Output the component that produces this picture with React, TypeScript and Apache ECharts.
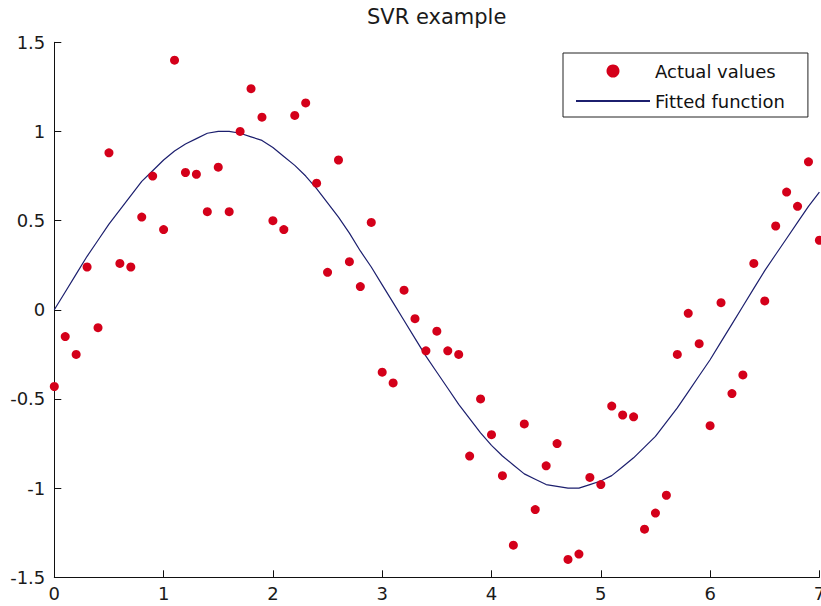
import React, { useEffect, useRef } from "react";
import * as echarts from "echarts";

const xValues = [
  0, 0.1, 0.2, 0.3, 0.4, 0.5, 0.6, 0.7, 0.8, 0.9,
  1.0, 1.1, 1.2, 1.3, 1.4, 1.5, 1.6, 1.7, 1.8, 1.9,
  2.0, 2.1, 2.2, 2.3, 2.4, 2.5, 2.6, 2.7, 2.8, 2.9,
  3.0, 3.1, 3.2, 3.3, 3.4, 3.5, 3.6, 3.7, 3.8, 3.9,
  4.0, 4.1, 4.2, 4.3, 4.4, 4.5, 4.6, 4.7, 4.8, 4.9,
  5.0, 5.1, 5.2, 5.3, 5.4, 5.5, 5.6, 5.7, 5.8, 5.9,
  6.0, 6.1, 6.2, 6.3, 6.4, 6.5, 6.6, 6.7, 6.8, 6.9,
  7.0,
];

const actualValues = [
  -0.43, -0.15, -0.25, 0.24, -0.1, 0.88, 0.26, 0.24, 0.52, 0.75,
  0.45, 1.4, 0.77, 0.76, 0.55, 0.8, 0.55, 1.0, 1.24, 1.08,
  0.5, 0.45, 1.09, 1.16, 0.71, 0.21, 0.84, 0.27, 0.13, 0.49,
  -0.35, -0.41, 0.11, -0.05, -0.23, -0.12, -0.23, -0.25, -0.82, -0.5,
  -0.7, -0.93, -1.32, -0.64, -1.12, -0.875, -0.75, -1.4, -1.37, -0.94,
  -0.98, -0.54, -0.59, -0.6, -1.23, -1.14, -1.04, -0.25, -0.02, -0.19,
  -0.65, 0.04, -0.47, -0.365, 0.26, 0.05, 0.47, 0.66, 0.58, 0.83,
  0.39,
];

const fittedValues = [
  0.0, 0.1, 0.2, 0.3, 0.39, 0.48, 0.56, 0.64, 0.72, 0.78,
  0.84, 0.89, 0.93, 0.96, 0.99, 1.0, 1.0, 0.99, 0.97, 0.95,
  0.91, 0.86, 0.81, 0.75, 0.68, 0.6, 0.52, 0.43, 0.33, 0.24,
  0.14, 0.04, -0.06, -0.16, -0.26, -0.35, -0.44, -0.53, -0.61, -0.69,
  -0.76, -0.82, -0.87, -0.92, -0.95, -0.98, -0.99, -1.0, -1.0, -0.98,
  -0.96, -0.93, -0.88, -0.83, -0.77, -0.71, -0.63, -0.55, -0.46, -0.37,
  -0.28, -0.18, -0.08, 0.02, 0.12, 0.22, 0.31, 0.4, 0.49, 0.58,
  0.66,
];

const FONT = "DejaVu Sans";

export default function App() {
  const ref = useRef<HTMLDivElement>(null);
  useEffect(() => {
    if (!ref.current) return;
    const chart = echarts.init(ref.current, undefined, { renderer: "svg" });
    chart.setOption({
      animation: false,
      backgroundColor: "#ffffff",
      title: {
        text: "SVR example",
        left: 367,
        top: 6,
        padding: 0,
        textStyle: { fontFamily: FONT, fontSize: 21, fontWeight: "normal", color: "#1a1a1a" },
      },
      legend: {
        orient: "vertical",
        left: 563,
        top: 53,
        itemWidth: 74,
        itemHeight: 13,
        itemGap: 10,
        padding: [8, 23, 6, 12],
        borderColor: "#222",
        borderWidth: 1,
        backgroundColor: "#ffffff",
        textStyle: { fontFamily: FONT, fontSize: 18, color: "#111", lineHeight: 20 },
        data: [
          { name: "Actual values", icon: "circle", itemStyle: { color: "#d4001a", opacity: 1 } },
          { name: "Fitted function", itemStyle: { opacity: 0 } },
        ],
      },
      grid: {
        left: 54.3,
        right: 1.6,
        top: 42.3,
        bottom: 28.7,
        containLabel: false,
        outerBoundsMode: "none",
      },
      xAxis: {
        type: "value",
        min: 0,
        max: 7,
        interval: 1,
        axisLine: { onZero: false, lineStyle: { color: "#111", width: 1 } },
        axisTick: { inside: true, length: 7, lineStyle: { color: "#111" } },
        axisLabel: { fontFamily: FONT, fontSize: 18, color: "#1a1a1a", margin: 7 },
        splitLine: { show: false },
      },
      yAxis: {
        type: "value",
        min: -1.5,
        max: 1.5,
        interval: 0.5,
        axisLine: { show: true, onZero: false, lineStyle: { color: "#111", width: 1 } },
        axisTick: { show: true, inside: true, length: 7, lineStyle: { color: "#111" } },
        axisLabel: { fontFamily: FONT, fontSize: 18, color: "#1a1a1a", margin: 9 },
        splitLine: { show: false },
      },
      series: [
        {
          name: "Actual values",
          type: "scatter",
          symbol: "circle",
          symbolSize: 9,
          itemStyle: { color: "#d4001a", opacity: 1 },
          data: xValues.map((x, i) => [x, actualValues[i]]),
          z: 3,
        },
        {
          name: "Fitted function",
          type: "line",
          symbol: "none",
          showSymbol: false,
          lineStyle: { color: "#1c1f6e", width: 1.2 },
          itemStyle: { color: "#1c1f6e" },
          data: xValues.map((x, i) => [x, fittedValues[i]]),
          z: 2,
        },
      ],
    });
    return () => chart.dispose();
  }, []);
  return (
    <div
      ref={ref}
      style={{ position: "absolute", left: 0, top: 0, width: 821, height: 606, background: "#fff" }}
    />
  );
}
